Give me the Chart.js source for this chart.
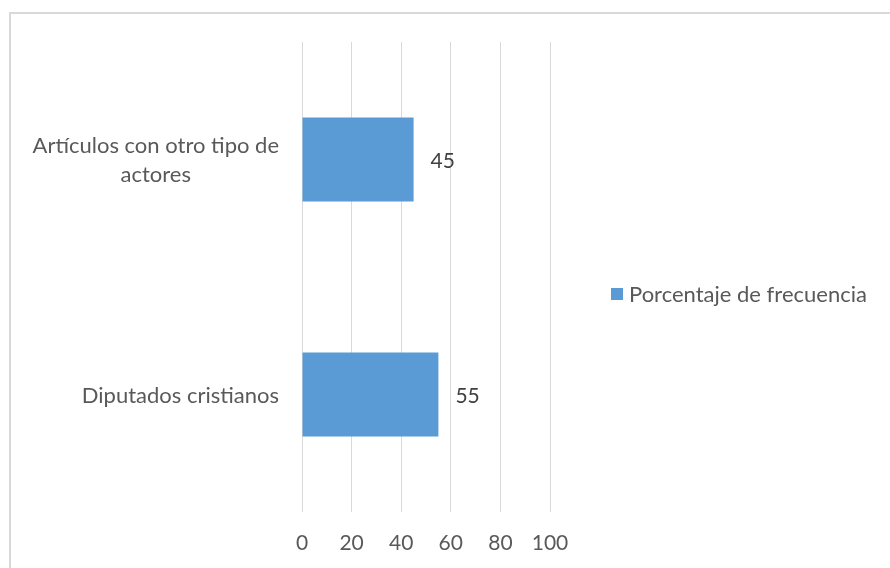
<!DOCTYPE html>
<html>
<head>
<meta charset="utf-8">
<script src="https://cdn.jsdelivr.net/npm/chart.js@4"></script>
<style>
  html, body { margin: 0; padding: 0; background: #fff; overflow: hidden; }
  #wrap { position: relative; width: 890px; height: 568px; }
  #grafico { display: block; }
  #marco {
    position: absolute; left: 9px; top: 12px; width: 1000px; height: 1000px;
    border: 2px solid #d9d9d9; pointer-events: none;
  }
  #leyenda {
    position: absolute; left: 611px; top: 281px; height: 24px;
    display: flex; align-items: center;
    font: 22px Lato, sans-serif; color: #595959; white-space: nowrap;
  }
  #leyenda span.caja {
    display: inline-block; width: 12px; height: 12px; background: #5b9bd5;
    margin-right: 6px; margin-top: 2px;
  }
</style>
</head>
<body>
<div id="wrap">
  <canvas id="grafico" width="890" height="568"></canvas>
  <div id="marco"></div>
  <div id="leyenda"><span class="caja"></span>Porcentaje de frecuencia</div>
</div>
<script>
var categorias = [
  ["Artículos con otro tipo de", "actores"],
  ["Diputados cristianos"]
]
var valores = [45, 55]
var serie = "Porcentaje de frecuencia"
var ticksX = [0, 20, 40, 60, 80, 100]

var fuente = "Lato, sans-serif"

// etiquetas del eje Y: bloque alineado a la derecha, lineas centradas
var etiquetasY = {
  id: "etiquetasY",
  afterDraw: function (chart) {
    var ctx = chart.ctx
    var y = chart.scales.y
    var derecha = chart.chartArea.left - 23
    ctx.save()
    ctx.font = "22px " + fuente
    ctx.fillStyle = "#595959"
    ctx.textAlign = "center"
    ctx.textBaseline = "middle"
    categorias.forEach(function (lineas, i) {
      var cy = y.getPixelForValue(i)
      var ancho = Math.max.apply(null, lineas.map(function (l) { return ctx.measureText(l).width }))
      var cx = derecha - ancho / 2
      lineas.forEach(function (l, j) {
        ctx.fillText(l, cx, cy + 1 + (j - (lineas.length - 1) / 2) * 29)
      })
    })
    ctx.restore()
  }
}

// valores al final de cada barra
var etiquetasValor = {
  id: "etiquetasValor",
  afterDatasetsDraw: function (chart) {
    var ctx = chart.ctx
    var meta = chart.getDatasetMeta(0)
    ctx.save()
    ctx.font = "21px " + fuente
    ctx.fillStyle = "#404040"
    ctx.textAlign = "left"
    ctx.textBaseline = "middle"
    meta.data.forEach(function (barra, i) {
      ctx.fillText(valores[i], barra.x + 17, barra.y + 2)
    })
    ctx.restore()
  }
}

var config = {
  type: "bar",
  data: {
    labels: categorias,
    datasets: [
      {
        label: serie,
        data: valores,
        backgroundColor: "#5b9bd5",
        barPercentage: 0.357,
        categoryPercentage: 1
      }
    ]
  },
  options: {
    indexAxis: "y",
    responsive: false,
    animation: false,
    layout: {
      padding: { left: 292, right: 340, top: 42, bottom: 13 }
    },
    plugins: {
      legend: { display: false },
      tooltip: { enabled: false }
    },
    scales: {
      x: {
        min: 0,
        max: 100,
        afterBuildTicks: function (axis) {
          axis.ticks = ticksX.map(function (v) { return { value: v } })
        },
        afterFit: function (axis) {
          axis.height = 43
        },
        grid: { color: "#d9d9d9", lineWidth: 1, drawTicks: false },
        border: { display: false },
        ticks: {
          padding: 19,
          color: "#595959",
          font: { family: fuente, size: 21 }
        }
      },
      y: {
        afterFit: function (axis) {
          axis.width = 10
        },
        grid: { display: false, drawTicks: false },
        border: { display: false },
        ticks: { display: false }
      }
    }
  },
  plugins: [etiquetasY, etiquetasValor]
}

var grafico = new Chart(document.getElementById("grafico"), config)
</script>
</body>
</html>
